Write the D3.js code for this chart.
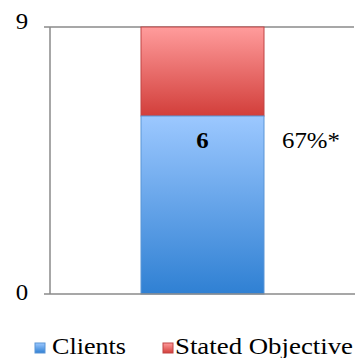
<!DOCTYPE html>
<html>
<head>
<meta charset="utf-8">
<script src="https://cdn.jsdelivr.net/npm/d3@7"></script>
<style>
  html, body { margin: 0; padding: 0; background: #fff; }
  svg { display: block; }
</style>
</head>
<body>
<svg id="chart" width="355" height="358"></svg>
<script>
// Chart data
const categories = ["Total"];
const clients = [6];
const statedObjective = [9];
const yTicks = [0, 9];
const seriesNames = ["Clients", "Stated Objective"];
const percentLabel = "67%*";

const FONT = "Liberation Serif";
const STRETCH = 1.08; // slightly wide glyphs
const svg = d3.select("#chart");

const y = d3.scaleLinear().domain([0, 9]).range([294, 27]);
const barX = d3.scaleBand().domain(categories).range([141, 264]).padding(0);

// Text helper: positioned with a transform so glyphs can be widened a bit
function label(sel, x, yPos, size) {
  return sel.attr("transform", `translate(${x},${yPos}) scale(${STRETCH},1)`)
    .style("font-family", FONT).style("font-size", size + "px").attr("fill", "#000");
}

const defs = svg.append("defs");
function grad(id, top, bottom) {
  const g = defs.append("linearGradient").attr("id", id)
    .attr("x1", 0).attr("y1", 0).attr("x2", 0).attr("y2", 1);
  g.append("stop").attr("offset", "0%").attr("stop-color", top);
  g.append("stop").attr("offset", "100%").attr("stop-color", bottom);
}
grad("gBlue", "#9cc8ff", "#2f80d3");
grad("gRed", "#ff9c9c", "#d23e3a");

// Gridline at top value
svg.append("line")
  .attr("x1", 44).attr("x2", 354)
  .attr("y1", y(9)).attr("y2", y(9))
  .attr("stroke", "#8a8a8a").attr("stroke-width", 1.5);

// Stacked bar
svg.selectAll(".red").data(categories).join("rect")
  .attr("x", d => barX(d)).attr("width", barX.bandwidth())
  .attr("y", (d, i) => y(statedObjective[i]))
  .attr("height", (d, i) => y(clients[i]) - y(statedObjective[i]))
  .attr("fill", "url(#gRed)").attr("stroke", "#c04545").attr("stroke-width", 1);

svg.selectAll(".blue").data(categories).join("rect")
  .attr("x", d => barX(d)).attr("width", barX.bandwidth())
  .attr("y", (d, i) => y(clients[i]))
  .attr("height", (d, i) => y(0) - y(clients[i]))
  .attr("fill", "url(#gBlue)").attr("stroke", "#5b95d6").attr("stroke-width", 1);

// Axes
svg.append("line")
  .attr("x1", 50).attr("x2", 50).attr("y1", y(9)).attr("y2", y(0))
  .attr("stroke", "#8a8a8a").attr("stroke-width", 1.5);
svg.append("line")
  .attr("x1", 44).attr("x2", 355).attr("y1", y(0)).attr("y2", y(0))
  .attr("stroke", "#8a8a8a").attr("stroke-width", 1.5);

svg.selectAll(".ytick").data(yTicks).join("text")
  .each(function(d) { label(d3.select(this), 22, y(d) + (d === 0 ? 6 : 2), 23); })
  .attr("text-anchor", "middle")
  .text(d => d);

// Value label inside the Clients segment
svg.selectAll(".val").data(categories).join("text")
  .each(function(d, i) {
    label(d3.select(this), barX(d) + barX.bandwidth() / 2, y(clients[i]) + 32, 23);
  })
  .attr("text-anchor", "middle").style("font-weight", "bold")
  .text((d, i) => clients[i]);

label(svg.append("text"), 282, y(clients[0]) + 32, 23)
  .attr("text-anchor", "start")
  .text(percentLabel);

// Legend
const legendItems = [
  { name: seriesNames[0], fill: "url(#gBlue)", stroke: "#5b95d6", x: 35, tx: 52, len: 74 },
  { name: seriesNames[1], fill: "url(#gRed)", stroke: "#c04545", x: 163, tx: 175, len: 178 }
];
const lg = svg.selectAll(".leg").data(legendItems).join("g");
lg.append("rect").attr("x", d => d.x).attr("y", 343).attr("width", 10).attr("height", 10)
  .attr("fill", d => d.fill).attr("stroke", d => d.stroke);
lg.append("text")
  .attr("x", d => d.tx).attr("y", 354)
  .style("font-family", FONT).style("font-size", "24px").attr("fill", "#000")
  .attr("textLength", d => d.len).attr("lengthAdjust", "spacingAndGlyphs")
  .text(d => d.name);
</script>
</body>
</html>
